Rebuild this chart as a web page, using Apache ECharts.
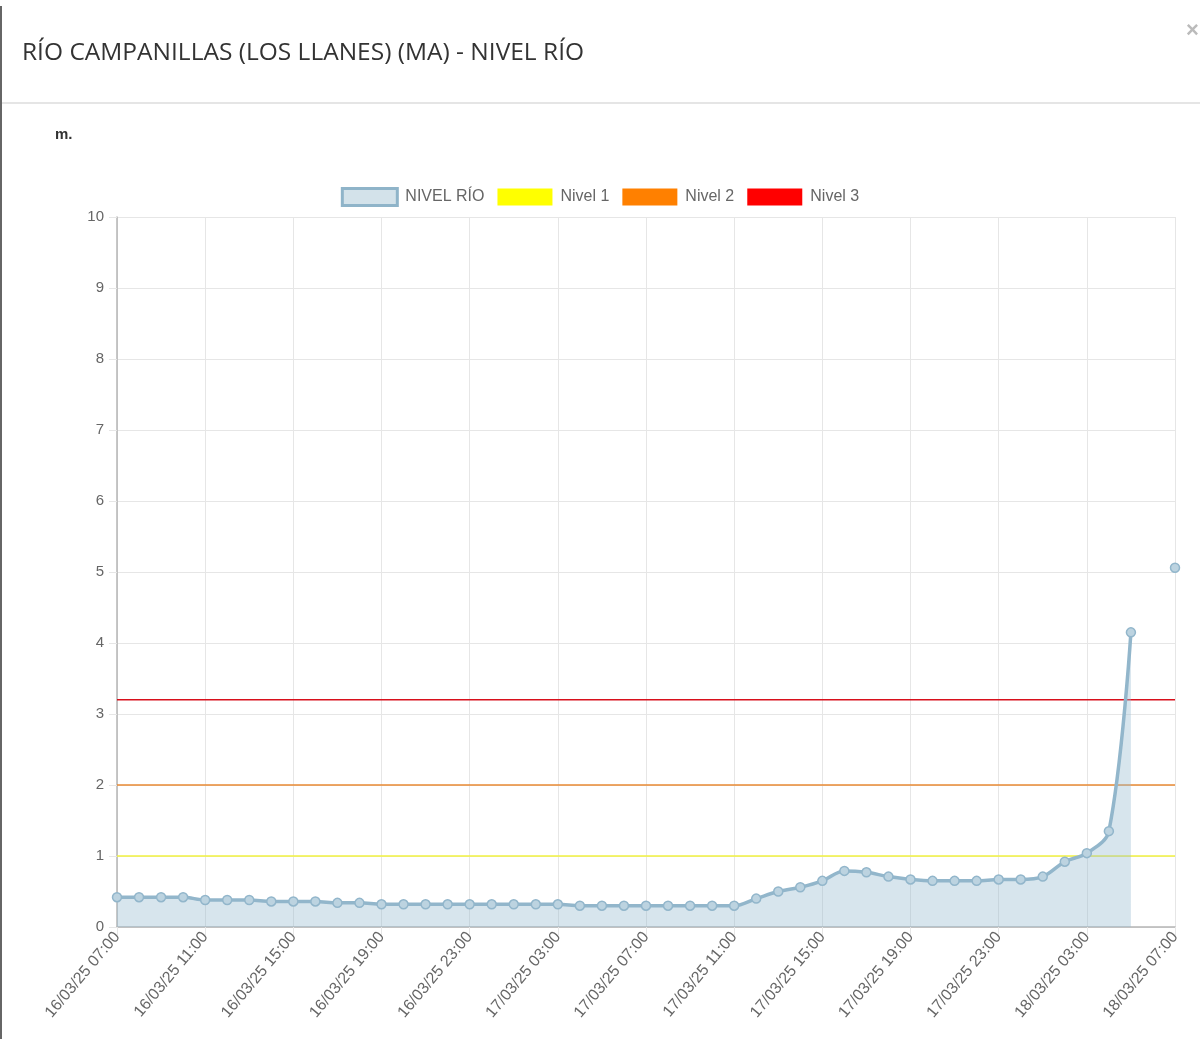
<!DOCTYPE html>
<html>
<head>
<meta charset="utf-8">
<script src="https://cdn.jsdelivr.net/npm/echarts@6/dist/echarts.min.js"></script>
<style>
html,body{margin:0;padding:0;background:#fff;}
#chart{width:1200px;height:1039px;}
</style>
</head>
<body>
<div id="chart"></div>
<script>
const categories = [
 '16/03/25 07:00','16/03/25 08:00','16/03/25 09:00','16/03/25 10:00','16/03/25 11:00','16/03/25 12:00','16/03/25 13:00','16/03/25 14:00',
 '16/03/25 15:00','16/03/25 16:00','16/03/25 17:00','16/03/25 18:00','16/03/25 19:00','16/03/25 20:00','16/03/25 21:00','16/03/25 22:00',
 '16/03/25 23:00','17/03/25 00:00','17/03/25 01:00','17/03/25 02:00','17/03/25 03:00','17/03/25 04:00','17/03/25 05:00','17/03/25 06:00',
 '17/03/25 07:00','17/03/25 08:00','17/03/25 09:00','17/03/25 10:00','17/03/25 11:00','17/03/25 12:00','17/03/25 13:00','17/03/25 14:00',
 '17/03/25 15:00','17/03/25 16:00','17/03/25 17:00','17/03/25 18:00','17/03/25 19:00','17/03/25 20:00','17/03/25 21:00','17/03/25 22:00',
 '17/03/25 23:00','18/03/25 00:00','18/03/25 01:00','18/03/25 02:00','18/03/25 03:00','18/03/25 04:00','18/03/25 05:00','18/03/25 06:00',
 '18/03/25 07:00'
];
const nivelRio = [
 0.42,0.42,0.42,0.42,0.38,0.38,0.38,0.36,
 0.36,0.36,0.34,0.34,0.32,0.32,0.32,0.32,
 0.32,0.32,0.32,0.32,0.32,0.30,0.30,0.30,
 0.30,0.30,0.30,0.30,0.30,0.40,0.50,0.56,
 0.65,0.79,0.77,0.71,0.67,0.65,0.65,0.65,
 0.67,0.67,0.71,0.92,1.04,1.35,4.15,null,
 5.06
];
const nivel1 = 1.0;
const nivel2 = 2.0;
const nivel3 = 3.2;
const yTicks = {min:0, max:10, interval:1};

const chart = echarts.init(document.getElementById('chart'));
const font = 'Liberation Sans, Arial, sans-serif';
const gridColor = '#e6e6e6';

function levelSeries(name, value, color){
  return {
    name: name, type: 'line',
    data: categories.map(() => value),
    showSymbol: false, symbol: 'none',
    lineStyle: {color: color, width: 1.4},
    itemStyle: {color: color},
    emphasis: {disabled: true},
    silent: true, z: 3
  };
}

chart.setOption({
  animation: false,
  title: {
    text: 'RÍO CAMPANILLAS (LOS LLANES) (MA) - NIVEL RÍO',
    left: 17, top: 36,
    textStyle: {fontFamily: 'Open Sans, sans-serif', fontSize: 24.5, fontWeight: 'normal', color: '#333'}
  },
  graphic: [
    {type: 'line', shape: {x1: 2, y1: 103, x2: 1200, y2: 103}, style: {stroke: '#e5e5e5', lineWidth: 2}},
    {type: 'line', shape: {x1: 1, y1: 6, x2: 1, y2: 1039}, style: {stroke: '#666', lineWidth: 2}},
    {type: 'text', left: 1186, top: 20, style: {text: '×', fill: '#bbb', font: 'bold 22px ' + font}},
    {type: 'text', left: 55, top: 127, style: {text: 'm.', fill: '#333', font: 'bold 15px ' + font}}
  ],
  legend: {
    top: 182, left: 'center',
    itemWidth: 55, itemHeight: 17, itemGap: 13,
    textStyle: {fontFamily: font, fontSize: 16, color: '#666', padding: [0, 0, 0, 3]},
    data: [
      {name: 'NIVEL RÍO', icon: 'rect', itemStyle: {color: '#d3e2ea', borderColor: '#8fb4c9', borderWidth: 3}},
      {name: 'Nivel 1', icon: 'rect', itemStyle: {color: '#ffff00', borderWidth: 0}},
      {name: 'Nivel 2', icon: 'rect', itemStyle: {color: '#ff8000', borderWidth: 0}},
      {name: 'Nivel 3', icon: 'rect', itemStyle: {color: '#ff0000', borderWidth: 0}}
    ]
  },
  grid: {left: 117, right: 25, top: 217, bottom: 112, containLabel: false},
  xAxis: {
    type: 'category', data: categories, boundaryGap: false,
    axisLine: {lineStyle: {color: '#b5b5b5', width: 1.5}},
    axisTick: {interval: 3, length: 8, lineStyle: {color: gridColor}},
    axisLabel: {interval: 3, rotate: 50, fontFamily: font, fontSize: 16, color: '#666', margin: 7},
    splitLine: {show: true, interval: 3, lineStyle: {color: gridColor}}
  },
  yAxis: {
    type: 'value', min: yTicks.min, max: yTicks.max, interval: yTicks.interval,
    axisLine: {show: true, lineStyle: {color: '#b5b5b5', width: 1.5}},
    axisTick: {show: true, length: 8, lineStyle: {color: gridColor}},
    axisLabel: {fontFamily: font, fontSize: 15, color: '#666', margin: 13},
    splitLine: {show: true, lineStyle: {color: gridColor}}
  },
  series: [
    {
      name: 'NIVEL RÍO', type: 'line', data: nivelRio,
      smooth: 0.35, connectNulls: false,
      symbol: 'circle', symbolSize: 9, showSymbol: true, showAllSymbol: true,
      lineStyle: {color: '#92b6cb', width: 3.5},
      itemStyle: {color: '#bcd3e0', borderColor: '#92b6cb', borderWidth: 1.5},
      areaStyle: {color: 'rgba(150,188,208,0.55)'},
      z: 4
    },
    levelSeries('Nivel 1', nivel1, '#f2f240'),
    levelSeries('Nivel 2', nivel2, '#e98a35'),
    levelSeries('Nivel 3', nivel3, '#d8101c')
  ]
});
</script>
</body>
</html>
